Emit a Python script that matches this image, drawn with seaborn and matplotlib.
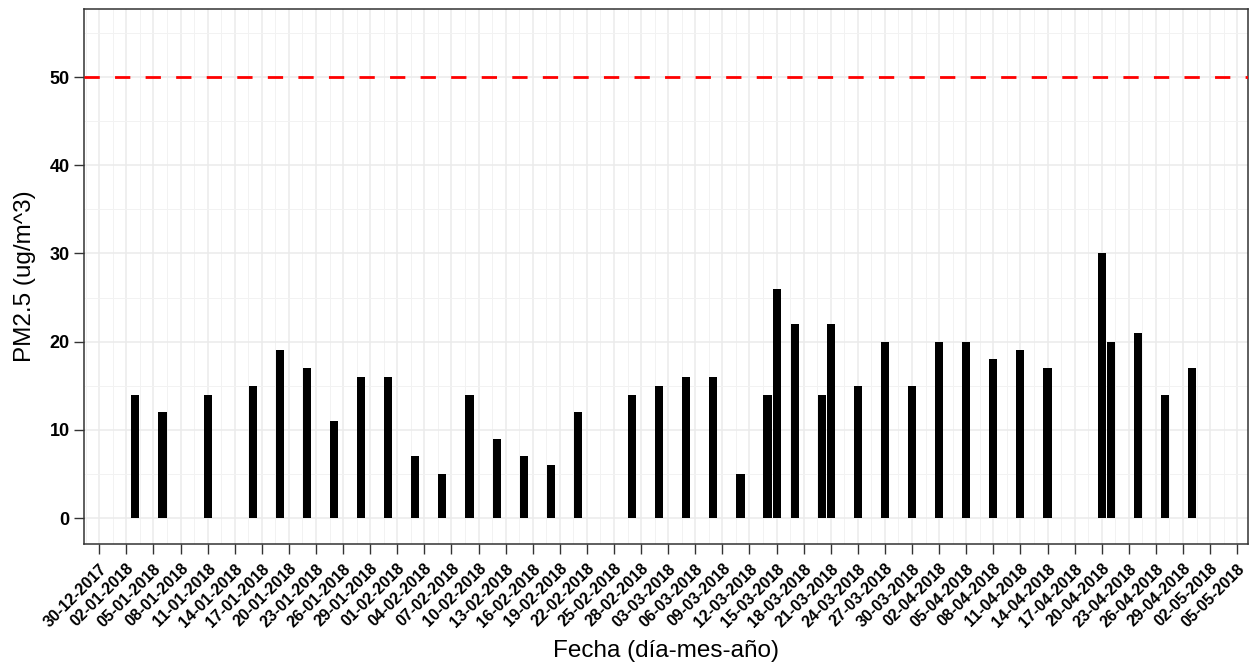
import matplotlib
matplotlib.use("Agg")
import matplotlib.pyplot as plt
import seaborn as sns
import pandas as pd
import numpy as np
from matplotlib.ticker import MultipleLocator

dates = ["2018-01-03", "2018-01-06", "2018-01-11", "2018-01-16", "2018-01-19",
         "2018-01-22", "2018-01-25", "2018-01-28", "2018-01-31", "2018-02-03",
         "2018-02-06", "2018-02-09", "2018-02-12", "2018-02-15", "2018-02-18",
         "2018-02-21", "2018-02-27", "2018-03-02", "2018-03-05", "2018-03-08",
         "2018-03-11", "2018-03-14", "2018-03-15", "2018-03-17", "2018-03-20",
         "2018-03-21", "2018-03-24", "2018-03-27", "2018-03-30", "2018-04-02",
         "2018-04-05", "2018-04-08", "2018-04-11", "2018-04-14", "2018-04-20",
         "2018-04-21", "2018-04-24", "2018-04-27", "2018-04-30"]
pm25 = [14, 12, 14, 15, 19,
        17, 11, 16, 16, 7,
        5, 14, 9, 7, 6,
        12, 14, 15, 16, 16,
        5, 14, 26, 22, 14,
        22, 15, 20, 15, 20,
        20, 18, 19, 17, 30,
        20, 21, 14, 17]
limit_value = 50
tick_start = "2017-12-30"
tick_end = "2018-05-05"

start = pd.Timestamp(tick_start)
df = pd.DataFrame({"fecha": pd.to_datetime(dates), "pm": pm25})
df["dia"] = (df["fecha"] - start).dt.days

tick_dates = pd.date_range(tick_start, tick_end, freq="3D")
tick_pos = [(d - start).days for d in tick_dates]
tick_labels = [d.strftime("%d-%m-%Y") for d in tick_dates]

sns.set_theme(style="whitegrid")
plt.rcParams["font.family"] = ["Liberation Sans", "DejaVu Sans"]

fig = plt.figure(figsize=(12.5, 6.64), dpi=100)
ax = fig.add_axes([0.0674, 0.1813, 0.931, 0.805])

sns.barplot(data=df, x="dia", y="pm", native_scale=True, width=0.9,
            color="black", saturation=1, ax=ax, errorbar=None, edgecolor="black",
            linewidth=0)

ax.axhline(limit_value, color="#FF0000", linestyle=(0, (5.5, 5.5)), linewidth=2, zorder=3)

ax.set_xlim(-1.66, 127.2)
ax.set_ylim(-2.9, 57.7)
ax.set_xticks(tick_pos)
ax.set_xticklabels(tick_labels, rotation=45, ha="right", rotation_mode="anchor",
                   fontsize=11.5, fontweight="bold", color="black")
ax.xaxis.set_minor_locator(MultipleLocator(1.5))
ax.yaxis.set_major_locator(MultipleLocator(10))
ax.yaxis.set_minor_locator(MultipleLocator(5))
for lab in ax.get_yticklabels():
    lab.set_fontweight("bold")
ax.tick_params(axis="y", labelsize=13, labelcolor="black")
ax.tick_params(axis="both", which="major", length=7.5, width=1, color="#333333",
               direction="out", bottom=True, left=True, pad=3)
ax.tick_params(axis="x", which="major", pad=5)
ax.tick_params(axis="both", which="minor", length=0)

ax.set_axisbelow(True)
ax.grid(True, which="major", color="#EBEBEB", linewidth=1.1)
ax.grid(True, which="minor", color="#F2F2F2", linewidth=0.7)

for s in ax.spines.values():
    s.set_visible(True)
    s.set_color("#333333")
    s.set_linewidth(1.1)

ax.set_xlabel("Fecha (día-mes-año)", fontsize=17.5, color="black", va="center")
ax.set_ylabel("PM2.5 (ug/m^3)", fontsize=17.5, color="black", va="center")
ax.xaxis.set_label_coords(0.5, (543.6 - 651) / 534.5)
ax.yaxis.set_label_coords((25 - 84.3) / 1163.7, 0.5)

fig.savefig("out.png", dpi=100, facecolor="white")
